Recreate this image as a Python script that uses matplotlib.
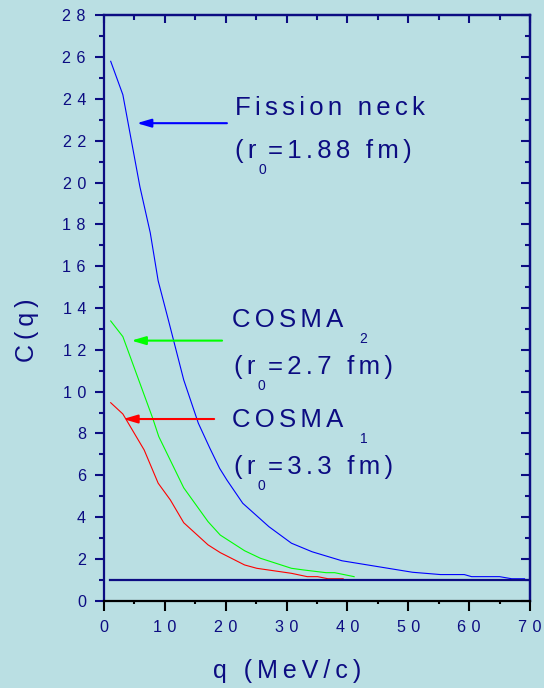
#!/usr/bin/env python3
"""Correlation function C(q) for fission neck and COSMA sources."""

import matplotlib
matplotlib.use("Agg")
import matplotlib.pyplot as plt
from matplotlib.ticker import FuncFormatter, MultipleLocator

plt.rcParams["font.family"] = ["Liberation Sans", "DejaVu Sans"]

BG = "#badfe3"
NAVY = "#0c0c82"

# values
q_neck = [1.1, 3.1, 4.5, 5.9, 7.6, 8.9, 10.6, 13.1, 15.5, 17.4, 19.0, 20.2,
          22.8, 27.1, 30.8, 34.2, 39.1, 45.0, 50.7, 55.3, 59.2, 60.4, 65.0, 67.0, 69.1]
c_neck = [25.8, 24.2, 22.0, 19.8, 17.6, 15.3, 13.4, 10.56, 8.49, 7.29, 6.33, 5.77,
          4.66, 3.54, 2.75, 2.34, 1.91, 1.63, 1.36, 1.25, 1.25, 1.15, 1.15, 1.05, 1.05]

q_cosma2 = [1.1, 3.1, 8.0, 9.0, 13.1, 17.1, 19.1, 23.1, 25.7, 30.8, 32.8, 36.5, 37.9, 41.1]
c_cosma2 = [13.38, 12.63, 8.73, 7.85, 5.40, 3.78, 3.14, 2.39, 2.03, 1.55, 1.47, 1.34, 1.34, 1.15]

q_cosma1 = [1.1, 3.1, 6.6, 8.9, 10.9, 13.1, 17.1, 19.1, 23.1, 25.1, 30.8, 33.4, 35.1, 36.8, 39.3]
c_cosma1 = [9.47, 8.93, 7.21, 5.62, 4.82, 3.73, 2.67, 2.30, 1.71, 1.55, 1.31, 1.15, 1.15, 1.05, 1.05]

baseline_q = [1.0, 70.0]
baseline_c = [1.0, 1.0]

# arrows: (tail q, head q, level C, colour)
arrows = [(20.2, 5.4, 22.84, "#0000ff"),
          (19.4, 4.5, 12.44, "#00ff00"),
          (18.1, 3.15, 8.69, "#ff0000")]

TICK_GAP = "\u2004"
LABEL_GAP = "\u2009"
NOTE_GAP = "\u2006"


def spaced(s, gap):
    return gap.join(s)


def note(ax, x, y, main, sub, rest="", sub_dx=1.5):
    """Letter-spaced note with a lowered subscript and optional trailing text."""
    t1 = ax.text(x, y, spaced(main, NOTE_GAP), fontsize=18.5, color=NAVY,
                 ha="left", va="baseline")
    t2 = ax.annotate(sub, xy=(1, 0), xycoords=t1, xytext=(sub_dx, 0),
                     textcoords="offset points", fontsize=10, color=NAVY,
                     ha="left", va="top")
    if rest:
        ax.annotate(spaced(rest, NOTE_GAP), xy=(1, 0), xycoords=(t2, t1),
                    xytext=(1.5, 0), textcoords="offset points", fontsize=18.5,
                    color=NAVY, ha="left", va="bottom")


fig = plt.figure(figsize=(5.44, 6.88), dpi=100, facecolor=BG)
ax = fig.add_axes([104 / 544, 87.3 / 688, 426 / 544, 585.4 / 688])
ax.set_facecolor(BG)

ax.plot(q_neck, c_neck, color="#0000ff", lw=0.8)
ax.plot(q_cosma2, c_cosma2, color="#00ff00", lw=0.8)
ax.plot(q_cosma1, c_cosma1, color="#ff0000", lw=0.8)
ax.plot(baseline_q, baseline_c, color=NAVY, lw=1.6)

for tail, head, level, col in arrows:
    ax.annotate("", xy=(head, level), xytext=(tail, level),
                arrowprops=dict(arrowstyle="-|>,head_length=0.85,head_width=0.25",
                                color=col, lw=1.5, mutation_scale=10,
                                shrinkA=0, shrinkB=0))

ax.text(21.5, 23.24, spaced("Fission neck", NOTE_GAP), fontsize=18.5,
        color=NAVY, ha="left", va="baseline")
note(ax, 21.5, 21.17, "(r", "0", "=1.88 fm)")
note(ax, 21.0, 13.11, "COSMA", "2", sub_dx=12)
note(ax, 21.4, 10.86, "(r", "0", "=2.7 fm)")
note(ax, 21.0, 8.33, "COSMA", "1", sub_dx=12)
note(ax, 21.4, 6.06, "(r", "0", "=3.3 fm)")

ax.set_xlim(0, 70)
ax.set_ylim(0, 28)
ax.xaxis.set_major_locator(MultipleLocator(10))
ax.xaxis.set_minor_locator(MultipleLocator(5))
ax.yaxis.set_major_locator(MultipleLocator(2))
ax.yaxis.set_minor_locator(MultipleLocator(1))
fmt = FuncFormatter(lambda v, pos: spaced(f"{v:g}", TICK_GAP))
ax.xaxis.set_major_formatter(fmt)
ax.yaxis.set_major_formatter(fmt)

ax.tick_params(axis="x", which="major", direction="out", length=7, width=1.5,
               color="black", labelcolor=NAVY, labelsize=11.6, pad=7)
ax.tick_params(axis="x", which="minor", direction="out", length=2.5, width=1.5,
               color="black")
ax.tick_params(axis="y", which="major", direction="out", length=6.5, width=1.5,
               color=NAVY, labelcolor=NAVY, labelsize=11.6, pad=6.5)
ax.tick_params(axis="y", which="minor", direction="out", length=3.5, width=1.5,
               color=NAVY)

for side in ("left", "top", "right"):
    ax.spines[side].set_color(NAVY)
    ax.spines[side].set_linewidth(1.6)
ax.spines["bottom"].set_color("black")
ax.spines["bottom"].set_linewidth(1.6)
ax.spines["bottom"].set_zorder(3)

top = ax.secondary_xaxis("top")
top.xaxis.set_major_locator(MultipleLocator(10))
top.xaxis.set_minor_locator(MultipleLocator(5))
top.tick_params(which="major", direction="in", length=5.8, width=1.5,
                color=NAVY, labeltop=False)
top.tick_params(which="minor", direction="in", length=3.6, width=1.5, color=NAVY)
top.spines["top"].set_color(NAVY)
top.spines["top"].set_linewidth(1.6)

right = ax.secondary_yaxis("right")
right.yaxis.set_major_locator(MultipleLocator(2))
right.yaxis.set_minor_locator(MultipleLocator(1))
right.tick_params(which="major", direction="in", length=6.3, width=1.5,
                  color=NAVY, labelright=False)
right.tick_params(which="minor", direction="in", length=3.6, width=1.5, color=NAVY)
right.spines["right"].set_color(NAVY)
right.spines["right"].set_linewidth(1.6)

fig.text(213 / 544, 1 - 678 / 688, spaced("q (MeV/c)", LABEL_GAP), fontsize=18,
         color=NAVY, ha="left", va="baseline")
fig.text(27 / 544, 1 - 330 / 688, spaced("C(q)", LABEL_GAP), fontsize=18,
         color=NAVY, rotation=90, ha="center", va="center")

fig.savefig("out.png", dpi=100, facecolor=BG)
